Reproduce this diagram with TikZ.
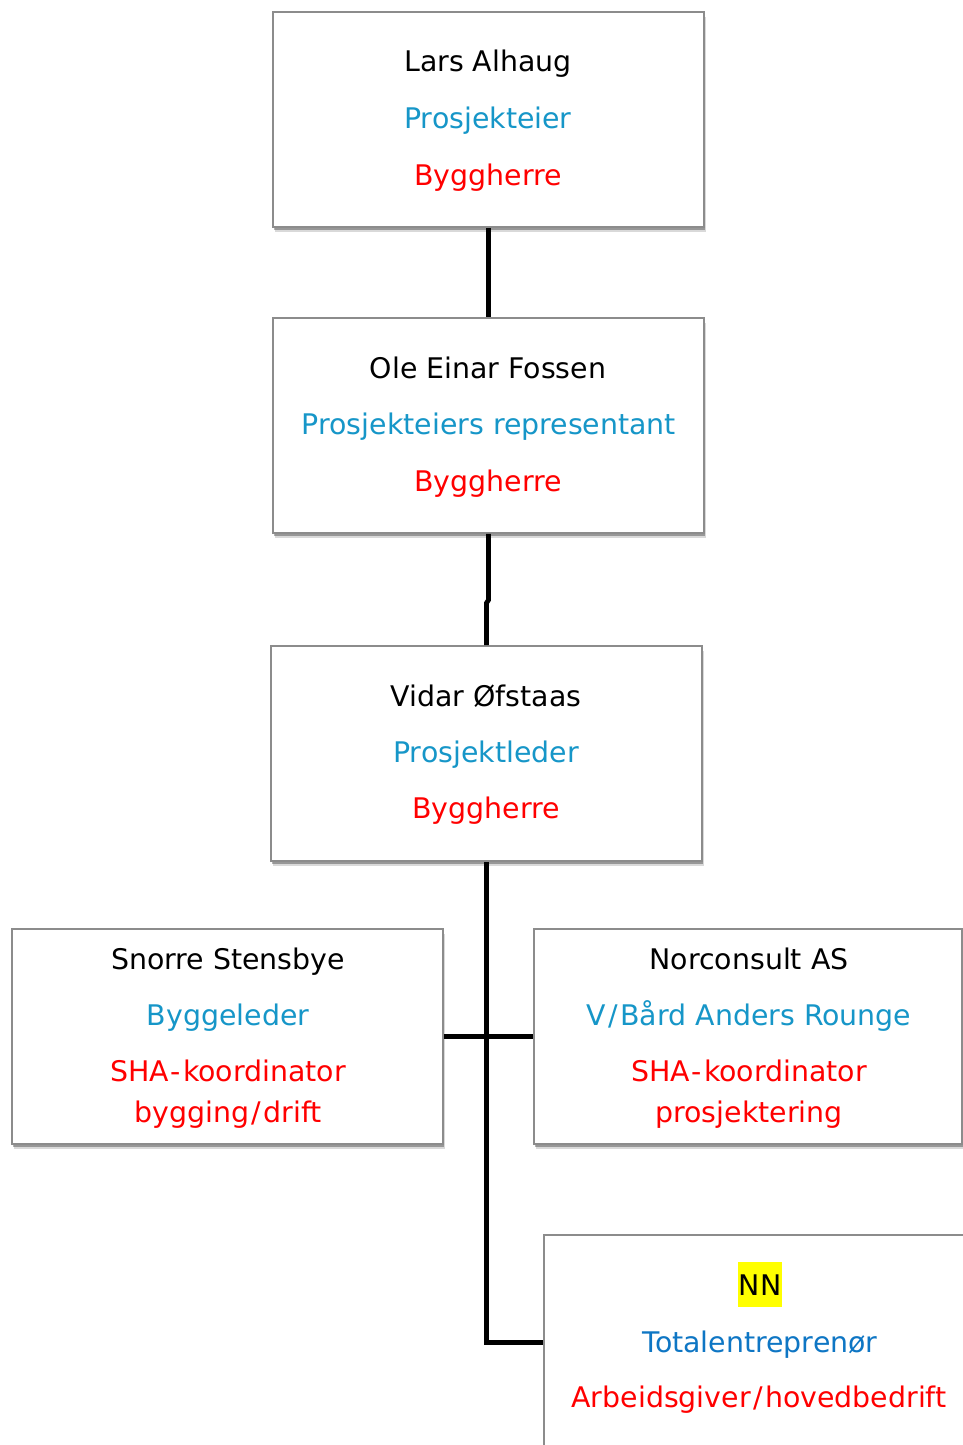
\documentclass[tikz,border=0pt]{standalone}
\usepackage{fontspec}
\setmainfont{DejaVu Sans}
\usetikzlibrary{shadows}
\definecolor{bluerole}{RGB}{22,150,200}
\definecolor{bluetotal}{RGB}{14,118,196}
\definecolor{redrole}{RGB}{255,0,0}
\definecolor{boxline}{RGB}{140,140,140}
\definecolor{hl}{RGB}{255,255,0}
\newcommand{\slsh}{\kern1.2pt/\kern1.2pt}
\newcommand{\hyp}{\kern1pt-\kern1pt}
\begin{document}
\begin{tikzpicture}[x=0.5pt,y=-0.5pt,
  orgbox/.style={draw=boxline, line width=0.8pt, fill=white, inner sep=0pt,
    minimum width=215.5pt, minimum height=107.5pt,
    drop shadow={shadow xshift=0.8pt, shadow yshift=-2.4pt, opacity=0.15, fill=black},
    drop shadow={shadow xshift=0.5pt, shadow yshift=-1.4pt, opacity=0.3, fill=black}},
  txt/.style={anchor=base, inner sep=0pt, font=\fontsize{14.2pt}{17pt}\selectfont},
  nametxt/.style={txt, text=black},
  roletxt/.style={txt, text=bluerole},
  hmstxt/.style={txt, text=redrole},
  conn/.style={draw=black, line width=2.4pt}
]
\useasboundingbox (0,0) rectangle (963,1445);
\clip (0,0) rectangle (963,1445);

% boxes
\node[orgbox] (b1) at (488.5,119.5) {};
\node[orgbox] (b2) at (488.5,425.5) {};
\node[orgbox] (b3) at (486.5,753.5) {};
\node[orgbox] (b4) at (227.5,1036.5) {};
\node[orgbox, minimum width=214pt] (b5) at (748,1036.5) {};
\node[orgbox] (b6) at (759.5,1342.5) {};

% box 1
\node[nametxt] (t1a) at (488,72) {Lars Alhaug};
\node[roletxt] (t1b) at (488,128) {Prosjekteier};
\node[hmstxt] (t1c) at (488,185) {Byggherre};
% box 2
\node[nametxt] (t2a) at (488,378) {Ole Einar Fossen};
\node[roletxt] (t2b) at (489,434) {Prosjekteiers representant};
\node[hmstxt] (t2c) at (488,491) {Byggherre};
% box 3
\node[nametxt] (t3a) at (486,706) {Vidar Øfstaas};
\node[roletxt] (t3b) at (486,762) {Prosjektleder};
\node[hmstxt] (t3c) at (486,818) {Byggherre};
% box 4
\node[nametxt] (t4a) at (228,969) {Snorre Stensbye};
\node[roletxt] (t4b) at (228,1025) {Byggeleder};
\node[hmstxt] (t4c) at (228,1081) {SHA\hyp koordinator};
\node[hmstxt] (t4d) at (228,1122) {bygging\slsh drift};
% box 5
\node[nametxt] (t5a) at (749,969) {Norconsult AS};
\node[roletxt] (t5b) at (749,1025) {V\slsh Bård Anders Rounge};
\node[hmstxt] (t5c) at (749,1081) {SHA\hyp koordinator};
\node[hmstxt] (t5d) at (749,1122) {prosjektering};
% box 6
\node[nametxt, fill=hl, text height=16.5pt, text depth=6pt, minimum width=22pt] (t6a) at (760,1295) {NN};
\node[txt, text=bluetotal] (t6b) at (760,1352) {Totalentreprenør};
\node[hmstxt] (t6c) at (759,1407) {Arbeidsgiver\slsh hovedbedrift};

% connectors
\coordinate (j1) at (488.5,600);
\coordinate (j2) at (486.5,603);
\draw[conn] (b1.south) -- (b2.north);
\draw[conn] (b2.south) -- (j1) -- (j2) -- (b3.north);
\draw[conn] (b3.south) -- (b3.south |- b6.west) -- (b6.west);
\draw[conn] (b4.east) -- (b5.west);
\end{tikzpicture}
\end{document}
